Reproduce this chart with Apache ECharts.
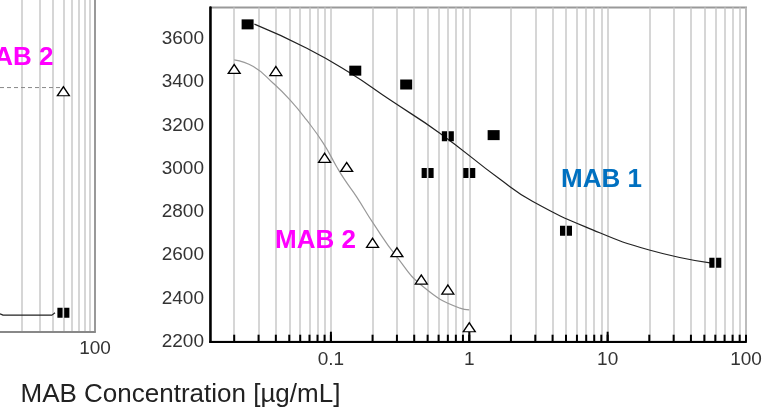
<!DOCTYPE html>
<html><head><meta charset="utf-8">
<script src="https://cdn.jsdelivr.net/npm/echarts@6/dist/echarts.min.js"></script>
<style>html,body{margin:0;padding:0;background:#fff}#c{width:782px;height:413px}</style>
</head><body><div id="c"></div>
<script>
// ---- tick values ----
const xMajorTicks = [0.1, 1, 10];
const xAllTicks = [0.02,0.03,0.04,0.05,0.06,0.07,0.08,0.09,0.1,0.2,0.3,0.4,0.5,0.6,0.7,0.8,0.9,1,2,3,4,5,6,7,8,9,10,20,30,40,50,60,70,80,90,100];
const xTickLabels = [0.1, 1, 10, 100];
const leftGridTicks = [20,30,40,50,60,70,80,90,100];
const leftTickLabels = [100];

// ---- MAB 1 measured points ----
const mab1SingleConc = [0.025, 0.15, 0.35, 1.5];
const mab1SingleSignal = [3667, 3453, 3389, 3155];
const mab1PairConc = [0.5, 0.7, 1.0, 5, 60];
const mab1PairSignal = [2980, 3150, 2980, 2713, 2565];
// ---- MAB 1 fitted curve ----
const mab1FitConc = [0.028, 0.067, 0.137, 0.267, 0.613, 1.66, 2.88, 7.8, 20, 55];
const mab1FitSignal = [3668, 3557, 3443, 3318, 3164, 2952, 2848, 2717, 2624, 2564];

// ---- MAB 2 measured points ----
const mab2Conc = [0.02, 0.04, 0.09, 0.13, 0.2, 0.3, 0.45, 0.7, 1.0];
const mab2Signal = [3461, 3451, 3050, 3008, 2657, 2614, 2487, 2441, 2267];
// ---- MAB 2 fitted curve ----
const mab2FitConc = [0.02, 0.0275, 0.0383, 0.0506, 0.0667, 0.088, 0.11, 0.126, 0.153, 0.202, 0.2985, 0.465, 0.855, 1.0];
const mab2FitSignal = [3503, 3472, 3395, 3318, 3225, 3118, 3009, 2948, 2871, 2748, 2593, 2454, 2355, 2347];

// ---- left (partly visible) panel ----
const leftMab2Conc = [50];
const leftMab2Signal = [72.5];
const leftMab2FitConc = [12.45, 46.4];
const leftMab2FitSignal = [73.6, 73.6];
const leftMab1Conc = [50];
const leftMab1Signal = [5.7];
const leftMab1FitConc = [12.45, 13.0, 13.3, 38.9, 41.6];
const leftMab1FitSignal = [5.4, 5.3, 5.0, 5.0, 5.7];

const Y_MIN = 2200;
const zip = (a, b) => a.map((v, i) => [v, b[i]]);
const FONT = "'Liberation Sans', Arial, sans-serif";
const pairSymbol = 'path://M0,0H5.2V10H0Z M6.8,0H12V10H6.8Z';
const fmt = v => String(+(+v).toPrecision(3));

function tickRenderer(len) {
  return function (params, api) {
    const p = api.coord([api.value(0), api.value(1)]);
    return {type: 'line', shape: {x1: p[0], y1: p[1], x2: p[0], y2: p[1] - len},
            style: {stroke: '#000', lineWidth: 2}};
  };
}

const chart = echarts.init(document.getElementById('c'), null, {renderer: 'canvas'});
chart.setOption({
  animation: false,
  backgroundColor: '#fff',
  grid: [
    {left: 210, top: 7.5, right: 36, bottom: 71.3, show: true, borderColor: '#999', borderWidth: 2, backgroundColor: 'transparent'},
    {left: 0, width: 95, top: 0, height: 331.7, show: false}
  ],
  xAxis: [
    {type: 'log', logBase: 10, gridIndex: 0, min: 0.01337, max: 100, position: 'bottom',
     axisLine: {show: true, lineStyle: {color: '#000', width: 2}},
     axisTick: {show: false, customValues: xAllTicks},
     splitLine: {show: true, lineStyle: {color: '#c8c8c8', width: 1.5}},
     minorTick: {show: false}, minorSplitLine: {show: false},
     axisLabel: {customValues: xTickLabels, formatter: fmt, fontSize: 19, color: '#333', fontFamily: FONT, margin: 9}},
    {type: 'log', logBase: 10, gridIndex: 1, min: 12.45, max: 100, position: 'bottom',
     axisLine: {show: true, lineStyle: {color: '#888', width: 2}},
     axisTick: {show: false, customValues: leftGridTicks},
     splitLine: {show: true, lineStyle: {color: '#c8c8c8', width: 1.5}},
     axisLabel: {customValues: leftTickLabels, formatter: fmt, fontSize: 19, color: '#333', fontFamily: FONT, margin: 8}}
  ],
  yAxis: [
    {type: 'value', gridIndex: 0, min: Y_MIN, max: 3745, interval: 200,
     axisLine: {show: true, lineStyle: {color: '#000', width: 2.5}},
     axisTick: {show: false}, splitLine: {show: false},
     axisLabel: {fontSize: 19, color: '#333', fontFamily: FONT, margin: 6, showMaxLabel: false, showMinLabel: true,
                 formatter: v => String(v)}},
    {type: 'value', gridIndex: 1, min: 0, max: 100, position: 'right',
     axisLine: {show: true, lineStyle: {color: '#999', width: 2}},
     axisTick: {show: false}, axisLabel: {show: false}, splitLine: {show: false}}
  ],
  series: [
    {type: 'custom', xAxisIndex: 0, yAxisIndex: 0, data: zip(xAllTicks, xAllTicks.map(() => Y_MIN)),
     renderItem: tickRenderer(7), z: 4, silent: true, clip: false},
    {type: 'custom', xAxisIndex: 0, yAxisIndex: 0, data: zip(xMajorTicks, xMajorTicks.map(() => Y_MIN)),
     renderItem: tickRenderer(10), z: 4, silent: true, clip: false},
    {type: 'line', xAxisIndex: 0, yAxisIndex: 0, data: zip(mab1FitConc, mab1FitSignal), smooth: true, showSymbol: false,
     lineStyle: {color: '#222', width: 1.2}, z: 3},
    {type: 'line', xAxisIndex: 0, yAxisIndex: 0, data: zip(mab2FitConc, mab2FitSignal), smooth: true, showSymbol: false,
     lineStyle: {color: '#999', width: 1.2}, z: 3},
    {type: 'scatter', xAxisIndex: 0, yAxisIndex: 0, data: zip(mab1SingleConc, mab1SingleSignal), symbol: 'rect', symbolSize: [12, 10],
     itemStyle: {color: '#000', opacity: 1}, z: 5},
    {type: 'scatter', xAxisIndex: 0, yAxisIndex: 0, data: zip(mab1PairConc, mab1PairSignal), symbol: pairSymbol, symbolSize: [12, 10],
     itemStyle: {color: '#000', opacity: 1}, z: 5},
    {type: 'scatter', xAxisIndex: 0, yAxisIndex: 0, data: zip(mab2Conc, mab2Signal), symbol: 'triangle', symbolSize: [12, 9],
     itemStyle: {color: '#fff', borderColor: '#000', borderWidth: 1.3, opacity: 1}, z: 5},
    {type: 'line', xAxisIndex: 1, yAxisIndex: 1, data: zip(leftMab2FitConc, leftMab2FitSignal), showSymbol: false,
     lineStyle: {color: '#888', width: 1, type: [4, 3]}, z: 3},
    {type: 'line', xAxisIndex: 1, yAxisIndex: 1, data: zip(leftMab1FitConc, leftMab1FitSignal), showSymbol: false,
     lineStyle: {color: '#222', width: 1.2}, z: 3},
    {type: 'scatter', xAxisIndex: 1, yAxisIndex: 1, data: zip(leftMab1Conc, leftMab1Signal), symbol: pairSymbol, symbolSize: [12, 10],
     itemStyle: {color: '#000', opacity: 1}, z: 5},
    {type: 'scatter', xAxisIndex: 1, yAxisIndex: 1, data: zip(leftMab2Conc, leftMab2Signal), symbol: 'triangle', symbolSize: [12, 9],
     itemStyle: {color: '#fff', borderColor: '#000', borderWidth: 1.3, opacity: 1}, z: 5}
  ],
  graphic: [
    {type: 'text', x: 561, y: 180, z: 10, style: {text: 'MAB 1', font: 'bold 26px ' + FONT, fill: '#0070C0', textAlign: 'left', textVerticalAlign: 'middle'}},
    {type: 'text', x: 275, y: 241, z: 10, style: {text: 'MAB 2', font: 'bold 26px ' + FONT, fill: '#FF00FF', textAlign: 'left', textVerticalAlign: 'middle'}},
    {type: 'text', x: 53.5, y: 58.3, z: 10, style: {text: 'MAB 2', font: 'bold 26px ' + FONT, fill: '#FF00FF', textAlign: 'right', textVerticalAlign: 'middle'}},
    {type: 'text', x: 20.5, y: 395, z: 10, style: {text: 'MAB Concentration [µg/mL]', font: '26px ' + FONT, fill: '#222', textAlign: 'left', textVerticalAlign: 'middle'}}
  ]
});
</script>
</body></html>
